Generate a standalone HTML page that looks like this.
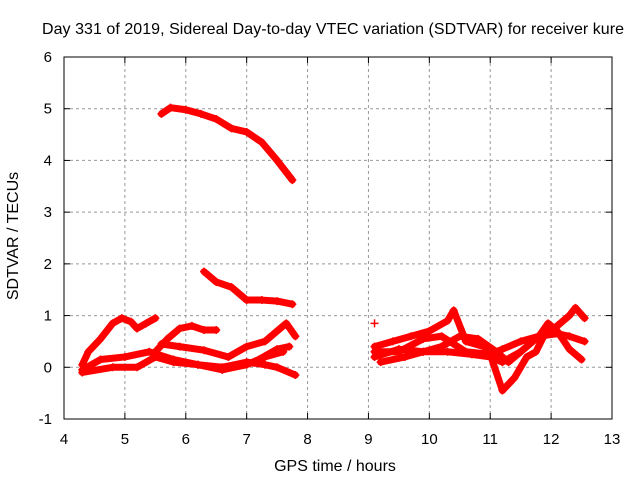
<!DOCTYPE html>
<html><head><meta charset="utf-8"><style>
html,body{margin:0;padding:0;background:#fff}
svg{display:block;font-family:"Liberation Sans",sans-serif}
</style></head><body>
<svg id="chart" width="640" height="480">
<rect width="640" height="480" fill="#fff"/>
<text x="333" y="34" font-size="16" text-anchor="middle" textLength="582">Day 331 of 2019, Sidereal Day-to-day VTEC variation (SDTVAR) for receiver kure</text>
<g id="grid"></g>
<g id="ticks"></g>
<g id="series"></g>
<rect x="64" y="57" width="548" height="362" fill="none" stroke="#000" stroke-width="1"/>
<text x="335" y="471" font-size="16" text-anchor="middle">GPS time / hours</text>
<text x="18" y="236" font-size="16" text-anchor="middle" transform="rotate(-90 18 236)">SDTVAR / TECUs</text>
</svg>
<script>
const xTicks=[4,5,6,7,8,9,10,11,12,13];
const yTicks=[-1,0,1,2,3,4,5,6];
const trackA_t=[5.6,5.75,6.0,6.25,6.5,6.75,7.0,7.25,7.5,7.75];
const trackA_v=[4.9,5.02,4.98,4.9,4.8,4.62,4.55,4.35,4.0,3.62];
const trackB_t=[6.3,6.5,6.75,7.0,7.25,7.5,7.75];
const trackB_v=[1.85,1.65,1.55,1.3,1.3,1.28,1.22];
const trackC_t=[4.3,4.4,4.6,4.8,4.95,5.1,5.2,5.35,5.5];
const trackC_v=[0.05,0.3,0.55,0.85,0.95,0.88,0.75,0.85,0.95];
const trackD_t=[5.5,5.7,5.9,6.1,6.3,6.5];
const trackD_v=[0.3,0.55,0.75,0.8,0.72,0.72];
const trackE_t=[5.6,5.9,6.3,6.7,7.0,7.3,7.5,7.65,7.8];
const trackE_v=[0.45,0.4,0.33,0.2,0.4,0.5,0.7,0.85,0.6];
const trackF_t=[4.3,4.6,5.0,5.4,5.8,6.2,6.6,7.0,7.3,7.6];
const trackF_v=[-0.05,0.15,0.2,0.3,0.15,0.05,-0.05,0.05,0.2,0.3];
const trackG_t=[4.3,4.8,5.2,5.5,5.8,6.2,6.6,7.0,7.3,7.5,7.8];
const trackG_v=[-0.1,0.0,0.0,0.2,0.1,0.05,0.0,0.1,0.05,0.0,-0.15];
const trackH_t=[7.2,7.5,7.7];
const trackH_v=[0.15,0.35,0.4];
const trackI_t=[9.1,9.4,9.7,10.0,10.3,10.4,10.6,10.9,11.0,11.2,11.4,11.6,11.75,11.9,12.1,12.3,12.4,12.55];
const trackI_v=[0.4,0.5,0.6,0.7,0.9,1.1,0.5,0.4,0.25,-0.45,-0.2,0.2,0.3,0.65,0.8,1.0,1.15,0.95];
const trackJ_t=[9.1,9.5,9.9,10.2,10.5,10.8,11.1,11.3,11.5,11.8,11.95,12.1,12.3,12.5];
const trackJ_v=[0.2,0.35,0.3,0.4,0.6,0.55,0.3,0.1,0.3,0.6,0.85,0.7,0.35,0.15];
const trackK_t=[9.1,9.5,9.9,10.2,10.6,11.0,11.2,11.5,11.8,12.1,12.3,12.55];
const trackK_v=[0.3,0.3,0.55,0.6,0.3,0.25,0.35,0.5,0.6,0.65,0.6,0.5];
const trackL_t=[9.2,9.6,9.9,10.3,10.7,11.0,11.2,11.5];
const trackL_v=[0.1,0.2,0.3,0.3,0.25,0.2,0.1,0.3];
const isolated_t=[9.1];
const isolated_v=[0.85];

const NS="http://www.w3.org/2000/svg";
const X0=64,X1=612,Y0=419,Y1=57;
function xs(t){return X0+(t-4)/9*(X1-X0);}
function ys(v){return Y0-(v+1)/7*(Y0-Y1);}
function mk(tag,attrs,parent){const e=document.createElementNS(NS,tag);for(const k in attrs)e.setAttribute(k,attrs[k]);parent.appendChild(e);return e;}
const grid=document.getElementById('grid'),ticks=document.getElementById('ticks'),series=document.getElementById('series');
xTicks.forEach(t=>{
  const x=xs(t);
  if(t>4&&t<13){const l=mk('line',{x1:x,x2:x,y1:Y1,y2:Y0,stroke:'#999','stroke-dasharray':'3,3'},grid);
  
  }
  mk('line',{x1:x,x2:x,y1:Y0,y2:Y0-6,stroke:'#000'},ticks);
  mk('line',{x1:x,x2:x,y1:Y1,y2:Y1+6,stroke:'#000'},ticks);
  const tx=mk('text',{x:x,y:444,'font-size':15,'text-anchor':'middle'},ticks);tx.textContent=t;
  
  
});
yTicks.forEach(v=>{
  const y=ys(v);
  if(v>-1&&v<6){const l=mk('line',{x1:X0,x2:X1,y1:y,y2:y,stroke:'#999','stroke-dasharray':'3,3'},grid);
  
  }
  mk('line',{x1:X0,x2:X0+6,y1:y,y2:y,stroke:'#000'},ticks);
  mk('line',{x1:X1,x2:X1-6,y1:y,y2:y,stroke:'#000'},ticks);
  const tx=mk('text',{x:52,y:y+5,'font-size':15,'text-anchor':'end'},ticks);tx.textContent=v;
  
  
});
const tracks=[[trackA_t,trackA_v],[trackB_t,trackB_v],[trackC_t,trackC_v],[trackD_t,trackD_v],[trackE_t,trackE_v],[trackF_t,trackF_v],[trackG_t,trackG_v],[trackH_t,trackH_v],[trackI_t,trackI_v],[trackJ_t,trackJ_v],[trackK_t,trackK_v],[trackL_t,trackL_v],[isolated_t,isolated_v]];
tracks.forEach((tr,i)=>{
  const g=mk('g',{},series);
  
  
  const pts=tr[0].map((t,j)=>xs(t)+','+ys(tr[1][j])).join(' ');
  if(tr[0].length>1) mk('polyline',{points:pts,fill:'none',stroke:'#f00','stroke-width':7,'stroke-linejoin':'round','stroke-linecap':'round'},g);
  tr[0].forEach((t,j)=>{
    const x=xs(t),y=ys(tr[1][j]);
    const p=mk('path',{d:`M${x-4},${y}H${x+4}M${x},${y-4}V${y+4}`,stroke:'#f00','stroke-width':1.5},g);
    
    
  });
});
</script>
</body></html>
